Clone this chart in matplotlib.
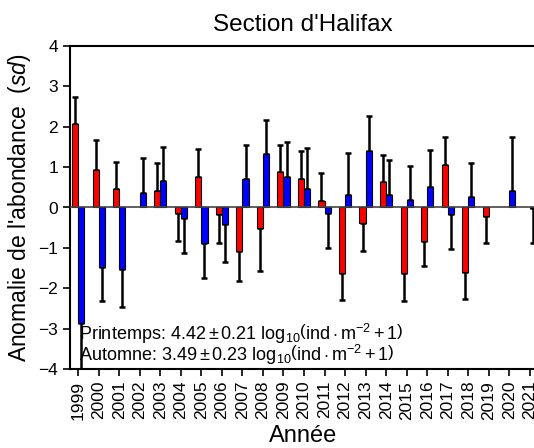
import numpy as np
import matplotlib
matplotlib.use("Agg")
import matplotlib.pyplot as plt

plt.rcParams['font.family'] = ['Liberation Sans', 'DejaVu Sans']
plt.rcParams['mathtext.fontset'] = 'custom'
plt.rcParams['mathtext.rm'] = 'Liberation Sans'
plt.rcParams['mathtext.it'] = 'Liberation Sans:italic'

years = list(range(1999, 2022))
spring = [2.08, 0.92, 0.45, np.nan, 0.41, -0.13, 0.76, -0.17, -1.07, -0.51, 0.89, 0.70,
          0.17, -1.61, -0.39, 0.63, -1.63, -0.82, 1.06, -1.59, -0.22, np.nan, np.nan]
spring_err = [0.66, 0.75, 0.68, np.nan, 0.68, 0.69, 0.69, 0.70, 0.74, 1.07, 0.67, 0.70,
              0.68, 0.69, 0.68, 0.68, 0.68, 0.64, 0.68, 0.68, 0.67, np.nan, np.nan]
autumn = [-2.87, -1.48, -1.53, 0.37, 0.65, -0.27, -0.87, -0.42, 0.70, 1.32, 0.75, 0.46,
          -0.14, 0.32, 1.41, 0.31, 0.18, 0.50, -0.17, 0.25, np.nan, 0.42, -0.02]
autumn_err = [1.40, 0.84, 0.93, 0.86, 0.86, 0.85, 0.87, 0.94, 0.86, 0.85, 0.86, 1.02,
              0.86, 1.02, 0.86, 0.86, 0.85, 0.93, 0.87, 0.85, np.nan, 1.32, 0.86]
legend_lines = [r"Printemps: $4.42 \pm 0.21\ \mathrm{log}_{10}\left(\mathrm{ind} \cdot \mathrm{m}^{-2} + 1\right)$",
                r"Automne: $3.49 \pm 0.23\ \mathrm{log}_{10}\left(\mathrm{ind} \cdot \mathrm{m}^{-2} + 1\right)$"]

W, H = 534, 448
fig = plt.figure(figsize=(W/100, H/100), dpi=100)
ax = fig.add_axes([70/W, 1-369/H, (536-70)/W, (369-46)/H])

x = np.array(years, dtype=float)
bw = 0.3

def one_sided(vals, errs):
    v = np.array(vals, float); e = np.array(errs, float)
    lo = np.where(v < 0, e, 0.0)
    hi = np.where(v >= 0, e, 0.0)
    return [lo, hi]

for xs, vals, errs, col in [(x - bw/2, spring, spring_err, 'red'), (x + bw/2, autumn, autumn_err, 'blue')]:
    ax.errorbar(xs, vals, yerr=one_sided(vals, errs), fmt='none', ecolor='black',
                elinewidth=1.8, capsize=2.5, capthick=1.8, zorder=2)
    ax.bar(xs, vals, width=bw, color=col, edgecolor='black', linewidth=0.8, zorder=3)

ax.axhline(0, color='#444444', linewidth=1.2, zorder=4)
ax.set_xlim(1998.6, 2021.3)
ax.set_ylim(-4, 4)
ax.set_yticks(range(-4, 5))
ax.set_xticks(years)
ax.set_xticklabels([str(y) for y in years], rotation=90, fontsize=12.5)
ax.tick_params(axis='y', labelsize=12.5, direction='out', length=5, width=1.2)
ax.tick_params(axis='x', direction='out', length=5, width=1.2)
for s in ax.spines.values():
    s.set_linewidth(1.5)

ax.set_title("Section d'Halifax", fontsize=17.5, pad=11)
ax.set_ylabel(r"Anomalie de l'abondance  ($sd$)", fontsize=16.5, labelpad=4)
ax.set_xlabel("Année", fontsize=17, labelpad=4)

ax.text(1999.05, -3.12, legend_lines[0], fontsize=13, va='center', ha='left', zorder=5)
ax.text(1999.05, -3.66, legend_lines[1], fontsize=13, va='center', ha='left', zorder=5)

fig.savefig("out.png", dpi=100)
